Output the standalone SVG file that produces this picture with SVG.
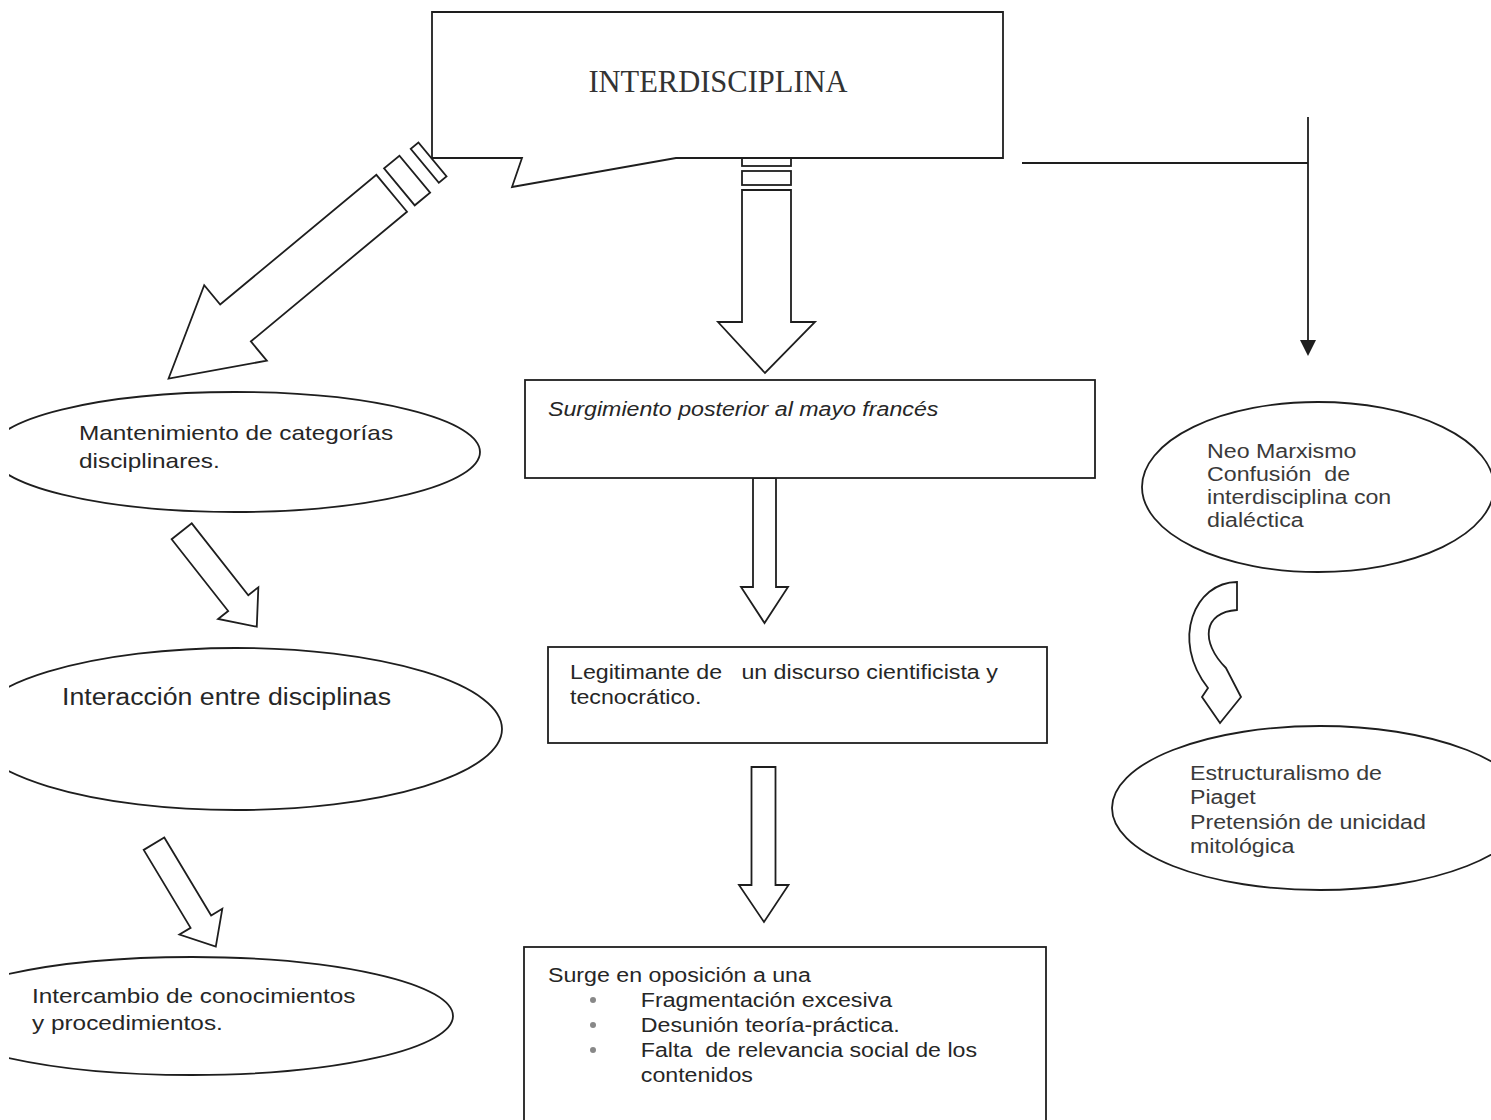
<svg xmlns="http://www.w3.org/2000/svg" width="1491" height="1120" viewBox="0 0 1491 1120">
<style>
  .ln{fill:none;stroke:#1e1e1e;stroke-width:1.8;stroke-linejoin:miter}
  .sh{fill:#fff;stroke:#1e1e1e;stroke-width:1.8;stroke-linejoin:miter}
  .t{font-family:"Liberation Sans",Arial,sans-serif;fill:#262626}
  .tr{font-family:"Liberation Sans",Arial,sans-serif;fill:#3a3a3a}
  .ts{font-family:"Liberation Serif","Times New Roman",serif;fill:#333}
</style>
<defs>
  <clipPath id="leftclip"><rect x="9" y="0" width="1482" height="1120"/></clipPath>
</defs>
<rect width="1491" height="1120" fill="#fff"/>

<g id="connectors">
  <g id="arrow-left-big" transform="translate(391.7,193.3) rotate(140.3)">
    <rect class="sh" x="-53" y="-22" width="10" height="44"/>
    <rect class="sh" x="-30" y="-24" width="20" height="48"/>
    <polygon class="sh" points="0,-24 203,-24 203,-49 290,0 203,49 203,24 0,24"/>
  </g>
  <g id="arrow-center-1">
    <rect class="sh" x="742" y="158" width="49" height="8"/>
    <rect class="sh" x="742" y="171" width="49" height="14"/>
    <polygon class="sh" points="742,190 791,190 791,322 815,322 765,373 718,322 742,322"/>
  </g>
  <polygon id="arrow-center-2" class="sh" points="753,478 776,478 776,587 788,587 764.5,623 741,587 753,587"/>
  <polygon id="arrow-center-3" class="sh" points="751.5,767 775.5,767 775.5,885 788.5,885 764,922 739,885 751.5,885"/>
  <polygon id="arrow-left-1" class="sh" transform="translate(181.7,531.3) rotate(51.8)" points="0,-12.8 91.4,-12.8 91.4,-25.6 121.4,0 91.4,25.6 91.4,12.8 0,12.8"/>
  <polygon id="arrow-left-2" class="sh" transform="translate(154,843.7) rotate(59)" points="0,-12 91,-12 91,-25 120,0 91,25 91,12 0,12"/>
  <path id="conn-right" class="ln" d="M1022,163 H1308 M1308,117 V342"/>
  <polygon points="1300,340 1316,340 1308,356" fill="#1e1e1e"/>
  <path id="arrow-curved" class="sh" d="M1237,582 C1195,582 1170,640 1208,688 L1202,697 L1220,723 L1241,697 L1226,668 C1200,642 1203,612 1237,610 Z"/>
</g>

<g id="node-interdisciplina">
  <path class="sh" d="M432,12 H1003 V158 H676 L512,187 L522,158 H432 Z"/>
  <text class="ts" x="718" y="92" font-size="30.5" text-anchor="middle">INTERDISCIPLINA</text>
</g>

<g id="node-mantenimiento">
  <ellipse class="sh" clip-path="url(#leftclip)" cx="235" cy="452" rx="245" ry="60"/>
  <text class="t" font-size="21" transform="translate(79,439.5) scale(1.16,1)"><tspan x="0" y="0">Mantenimiento de categorías</tspan><tspan x="0" y="28.5">disciplinares.</tspan></text>
</g>

<g id="node-interaccion">
  <ellipse class="sh" clip-path="url(#leftclip)" cx="236" cy="729" rx="266" ry="81"/>
  <text class="t" font-size="23" transform="translate(62,705) scale(1.16,1)">Interacción entre disciplinas</text>
</g>

<g id="node-intercambio">
  <ellipse class="sh" clip-path="url(#leftclip)" cx="192" cy="1016" rx="261" ry="59"/>
  <text class="t" font-size="21" transform="translate(32,1003) scale(1.16,1)"><tspan x="0" y="0">Intercambio de conocimientos</tspan><tspan x="0" y="27">y procedimientos.</tspan></text>
</g>

<g id="node-surgimiento">
  <rect class="sh" x="525" y="380" width="570" height="98"/>
  <text class="t" font-size="20" font-style="italic" transform="translate(548,416) scale(1.16,1)">Surgimiento posterior al mayo francés</text>
</g>

<g id="node-legitimante">
  <rect class="sh" x="548" y="647" width="499" height="96"/>
  <text class="t" font-size="20" xml:space="preserve" transform="translate(570,679) scale(1.16,1)"><tspan x="0" y="0">Legitimante de   un discurso cientificista y</tspan><tspan x="0" y="25">tecnocrático.</tspan></text>
</g>

<g id="node-surge">
  <rect class="sh" x="524" y="947" width="522" height="190"/>
  <text class="t" font-size="20" xml:space="preserve" transform="translate(548,982) scale(1.16,1)"><tspan x="0" y="0">Surge en oposición a una</tspan><tspan x="80" y="25">Fragmentación excesiva</tspan><tspan x="80" y="50">Desunión teoría-práctica.</tspan><tspan x="80" y="75">Falta  de relevancia social de los</tspan><tspan x="80" y="100">contenidos</tspan></text>
  <g fill="#888">
    <circle cx="593" cy="1000" r="3"/>
    <circle cx="593" cy="1025" r="3"/>
    <circle cx="593" cy="1050" r="3"/>
  </g>
</g>

<g id="node-neomarxismo">
  <ellipse class="sh" cx="1318" cy="487" rx="176" ry="85"/>
  <text class="tr" font-size="20" transform="translate(1207,458) scale(1.16,1)"><tspan x="0" y="0">Neo Marxismo</tspan><tspan x="0" y="23" xml:space="preserve">Confusión  de</tspan><tspan x="0" y="46">interdisciplina con</tspan><tspan x="0" y="69">dialéctica</tspan></text>
</g>

<g id="node-estructuralismo">
  <ellipse class="sh" cx="1320" cy="808" rx="208" ry="82"/>
  <text class="tr" font-size="20" transform="translate(1190,780) scale(1.16,1)"><tspan x="0" y="0">Estructuralismo de</tspan><tspan x="0" y="24">Piaget</tspan><tspan x="0" y="49">Pretensión de unicidad</tspan><tspan x="0" y="73">mitológica</tspan></text>
</g>
</svg>
